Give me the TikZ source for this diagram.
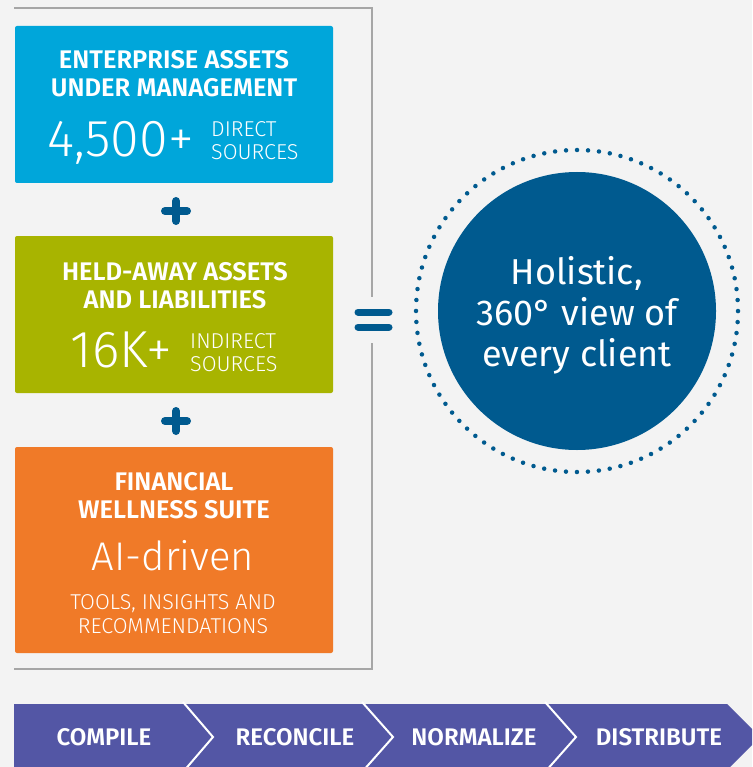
\documentclass[tikz,border=0pt]{standalone}
\usepackage{fontspec}
\setmainfont{Fira Sans}[BoldFont={Fira Sans SemiBold}]
\newfontfamily\lightfont{Fira Sans Light}
\definecolor{bgc}{HTML}{F3F3F3}
\definecolor{bluec}{HTML}{00A6DA}
\definecolor{greenc}{HTML}{A8B400}
\definecolor{orangec}{HTML}{F07A28}
\definecolor{navyc}{HTML}{005A8F}
\definecolor{barc}{HTML}{5356A5}
\definecolor{linec}{HTML}{A6A6A6}
\begin{document}
\begin{tikzpicture}[x=1pt,y=-1pt,
  card/.style={rounded corners=2pt},
  ttl/.style={text=white,font=\bfseries\fontsize{25.5}{30}\selectfont,anchor=base,inner sep=0pt},
  big/.style={text=white,font=\lightfont\fontsize{52}{56}\selectfont,anchor=base,inner sep=0pt},
  small/.style={text=white,font=\lightfont\fontsize{21.5}{25}\selectfont,anchor=base west,inner sep=0pt},
  smallc/.style={text=white,font=\lightfont\fontsize{21.5}{25}\selectfont,anchor=base,inner sep=0pt},
  circtxt/.style={text=white,font=\fontsize{36}{40}\selectfont,anchor=base,inner sep=0pt},
  plusmark/.style={draw=navyc,line width=8pt,line cap=round},
  bracket/.style={draw=linec,line width=1.4pt},
  steptxt/.style={text=white,font=\bfseries\fontsize{24}{28}\selectfont,anchor=base,inner sep=0pt},
  sep/.style={draw=white,line width=2pt}]
\clip (0,0) rectangle (752,767);
\fill[bgc] (0,0) rectangle (752,767);
% bracket
\coordinate (b1) at (14,8);
\coordinate (b2) at (372,8);
\coordinate (b3) at (372,297);
\coordinate (b4) at (372,343);
\coordinate (b5) at (372,669);
\coordinate (b6) at (14,669);
\draw[bracket] (b1) -- (b2) -- (b3);
\draw[bracket] (b4) -- (b5) -- (b6);
% cards
\fill[bluec,card] (15,26) rectangle (333,183);
\fill[greenc,card] (15,236) rectangle (333,393);
\fill[orangec,card] (15,447) rectangle (333,653);
% card 1
\node[ttl] (t1a) at (174,69) {ENTERPRISE ASSETS};
\node[ttl] (t1b) at (174,97) {UNDER MANAGEMENT};
\node[big,anchor=base east] (n1) at (194,157) {4,500+};
\node[small] (s1a) at (211,137) {DIRECT};
\node[small] (s1b) at (211,160) {SOURCES};
% card 2
\node[ttl] (t2a) at (175,280) {HELD-AWAY ASSETS};
\node[ttl] (t2b) at (175,308) {AND LIABILITIES};
\node[big,anchor=base east] (n2) at (172,367) {16K+};
\node[small] (s2a) at (190,348) {INDIRECT};
\node[small] (s2b) at (190,371) {SOURCES};
% card 3
\node[ttl] (t3a) at (174,490) {FINANCIAL};
\node[ttl] (t3b) at (174,518) {WELLNESS SUITE};
\node[big,font=\lightfont\fontsize{40}{44}\selectfont] (n3) at (173,570) {AI-driven};
\node[smallc] (s3a) at (173,609) {TOOLS, INSIGHTS AND};
\node[smallc] (s3b) at (173,633) {RECOMMENDATIONS};
% plus signs
\coordinate (p1) at (176,211);
\coordinate (p2) at (176,421);
\foreach \p in {p1,p2}{
  \draw[plusmark] ([xshift=-11pt]\p) -- ([xshift=11pt]\p);
  \draw[plusmark] ([yshift=-10pt]\p) -- ([yshift=10pt]\p);
}
% equals
\coordinate (e1) at (358,312);
\coordinate (e2) at (389,312);
\coordinate (e3) at (358,327);
\coordinate (e4) at (389,327);
\draw[draw=navyc,line width=7pt,line cap=round] (e1) -- (e2) (e3) -- (e4);
% circle
\node[circle,fill=navyc,minimum size=278pt,inner sep=0pt] (c) at (577,311) {};
\draw[navyc,line width=4.5pt,line cap=round,dash pattern=on 0pt off 10.996pt] (c.center) circle[radius=161pt];
\node[circtxt] (ct1) at (577,284) {Holistic,};
\node[circtxt] (ct2) at (577,325) {360° view of};
\node[circtxt] (ct3) at (577,366) {every client};
% process bar
\fill[barc] (14,704) -- (727,704) -- (760,737) -- (727,770) -- (14,770) -- cycle;
\draw[sep] (183,702) -- (213,737) -- (183,772);
\draw[sep] (362,702) -- (393,737) -- (362,772);
\draw[sep] (545,702) -- (576,737) -- (545,772);
\node[steptxt] (st1) at (104,745) {COMPILE};
\node[steptxt] (st2) at (295,745) {RECONCILE};
\node[steptxt] (st3) at (474,745) {NORMALIZE};
\node[steptxt] (st4) at (659,745) {DISTRIBUTE};
\end{tikzpicture}
\end{document}
